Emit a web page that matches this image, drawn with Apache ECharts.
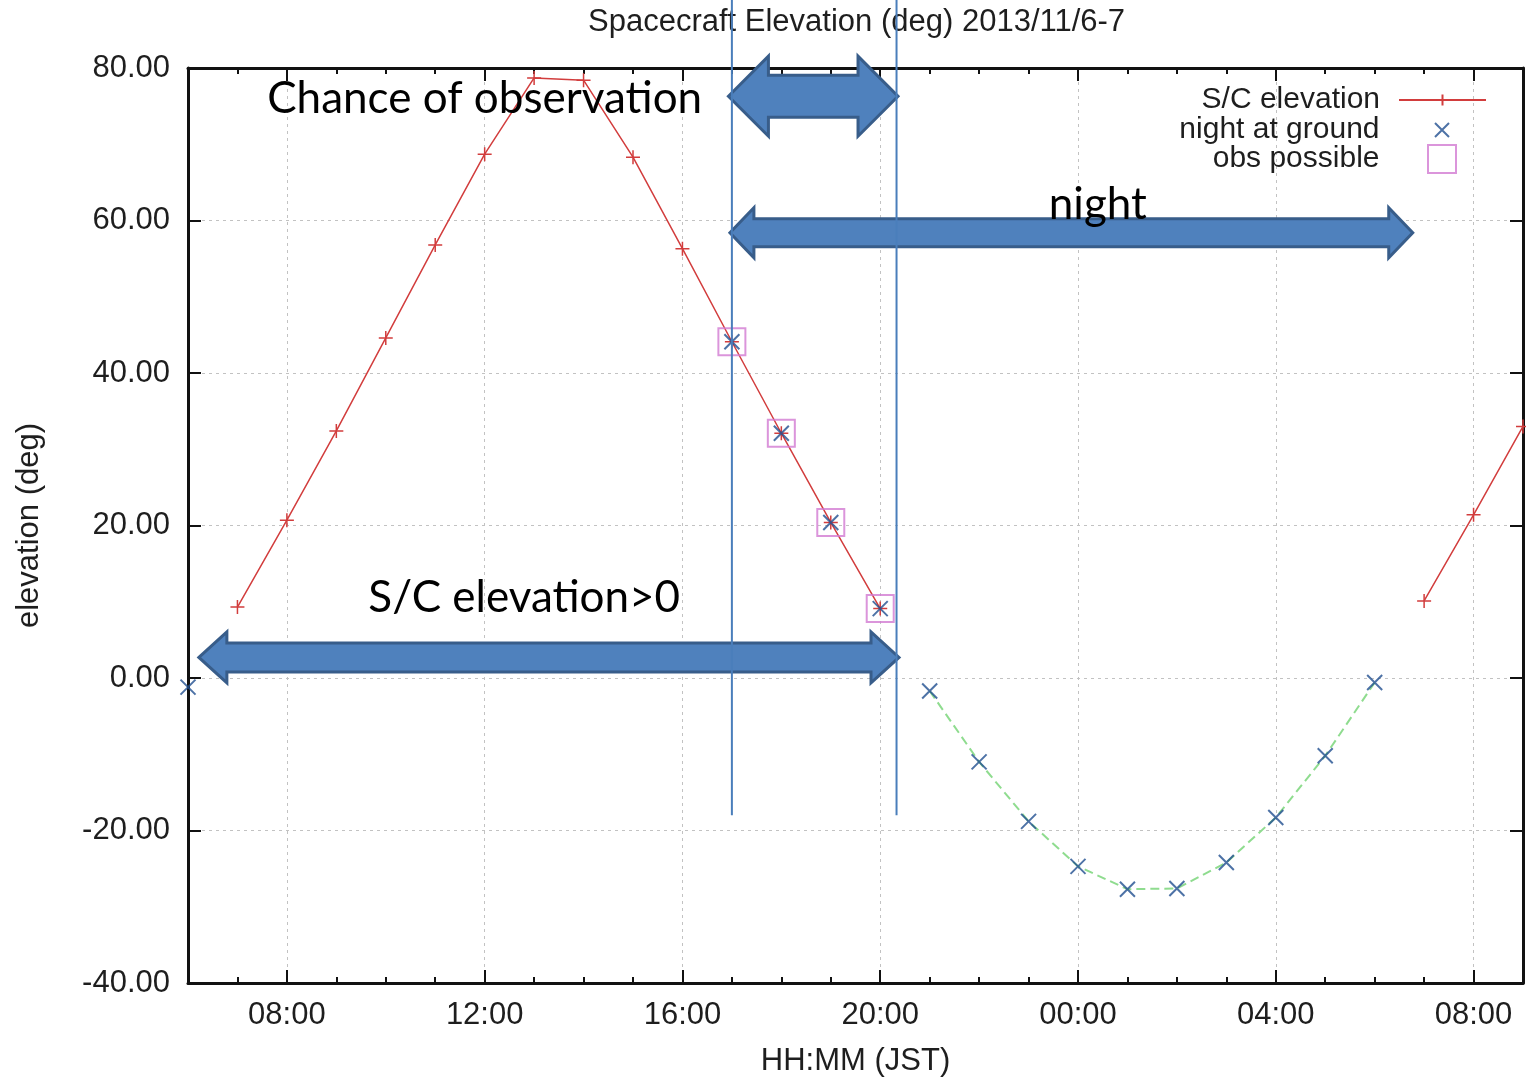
<!DOCTYPE html>
<html>
<head>
<meta charset="utf-8">
<script src="https://cdn.jsdelivr.net/npm/echarts@6/dist/echarts.min.js"></script>
<style>
  html, body { margin: 0; padding: 0; background: #fff; }
  #chart { width: 1526px; height: 1077px; }
</style>
</head>
<body>
<div id="chart"></div>
<script>
// hourly samples, 2013/11/6 06:00 .. 2013/11/7 09:00 (JST)
const timeLabels = ['06:00','07:00','08:00','09:00','10:00','11:00','12:00','13:00','14:00','15:00',
  '16:00','17:00','18:00','19:00','20:00','21:00','22:00','23:00','00:00','01:00','02:00','03:00',
  '04:00','05:00','06:00','07:00','08:00','09:00']
const scElevation = [null, 9.3, 20.7, 32.4, 44.6, 56.8, 68.7, 78.7, 78.4, 68.3, 56.3, 44.1, 32.1, 20.4, 9.1,
  null, null, null, null, null, null, null, null, null, null, 10.1, 21.4, 33.0]
const nightAtGround = [-1.2, null, null, null, null, null, null, null, null, null, null, 44.1, 32.1, 20.4, 9.1,
  -1.7, -11.0, -18.8, -24.7, -27.7, -27.6, -24.2, -18.3, -10.2, -0.6, null, null, null]
const obsPossible = [null, null, null, null, null, null, null, null, null, null, null, 44.1, 32.1, 20.4, 9.1,
  null, null, null, null, null, null, null, null, null, null, null, null, null]
const nightCurve = nightAtGround.map(v => (v != null && v < 0) ? v : null)

// overlay notes, in hours from 11/6 00:00 and degrees
const arrowSpans = [[16.93, 20.36, 76.3], [16.96, 30.77, 58.4], [6.22, 20.38, 2.7]]
const guideLines = [[17.0, 89, -18], [20.33, 89, -18]]
const noteTexts = ['Chance of observation', 'night', 'S/C elevation>0']
const notePos = [[12.0, 75.9], [24.4, 62.0], [12.8, 10.5]]
const arrowShapes = [{ head: 40, headH: 80, body: 42 }, { head: 24, headH: 50, body: 28 }, { head: 28, headH: 51, body: 29 }]

const gpFont = 'Liberation Sans, Arial, Helvetica, sans-serif'
const noteFont = 'Lato, Open Sans, sans-serif'
const PLUS = 'path://M0,5L10,5M5,0L5,10'
const CROSS = 'path://M0,0L10,10M10,0L0,10'
const SQUARE = 'path://M0,0L10,0L10,10L0,10Z'
const isMajor = (i) => i % 4 === 2
const txt = '#1e1e1e'
const fs = 31
const gridLine = { color: '#c2c2c2', width: 1, type: [3, 4] }
const frame = { color: '#111', width: 3 }
const tickStyle = { color: '#111', width: 2 }

const chart = echarts.init(document.getElementById('chart'))

const legendBase = {
  orient: 'vertical', align: 'right', padding: 0, itemWidth: 87,
  selectedMode: false,
  textStyle: { fontSize: 30, fontFamily: gpFont, color: txt, padding: [0, 14, 0, 0] }
}

const option = {
  animation: false,
  backgroundColor: '#fff',
  title: {
    text: 'Spacecraft Elevation (deg) 2013/11/6-7',
    left: 588, top: 7, padding: 0,
    textStyle: { fontSize: fs, fontWeight: 'normal', fontFamily: gpFont, color: txt }
  },
  legend: [
    { ...legendBase, data: ['S/C elevation'], right: 39, top: 85, itemHeight: 14 },
    { ...legendBase, data: [{ name: 'night at ground', icon: CROSS }], right: 76, top: 115, itemHeight: 14,
      itemStyle: { borderWidth: 2 } },
    { ...legendBase, data: [{ name: 'obs possible', icon: SQUARE }], right: 69, top: 144, itemHeight: 28,
      itemStyle: { borderWidth: 2 } }
  ],
  grid: { left: 188, right: 3, top: 68, bottom: 94, outerBoundsMode: 'none', containLabel: false },
  xAxis: [
    { // hourly ticks, bottom frame
      type: 'value', min: 6, max: 33, interval: 1, position: 'bottom',
      axisLine: { onZero: false, lineStyle: frame },
      axisTick: { inside: true, length: 6, lineStyle: tickStyle },
      axisLabel: { show: false }, splitLine: { show: false }
    },
    { // hourly ticks, top frame
      type: 'value', min: 6, max: 33, interval: 1, position: 'top',
      axisLine: { onZero: false, lineStyle: frame },
      axisTick: { inside: true, length: 6, lineStyle: tickStyle },
      axisLabel: { show: false }, splitLine: { show: false }
    },
    { // labelled 4h ticks
      type: 'category', data: timeLabels, boundaryGap: false, position: 'bottom',
      axisLine: { show: false, onZero: false },
      axisTick: { inside: true, length: 13, interval: isMajor, lineStyle: tickStyle },
      axisLabel: { interval: isMajor, fontSize: fs, fontFamily: gpFont, color: txt, margin: 17 },
      splitLine: { show: true, interval: isMajor, lineStyle: gridLine },
      name: 'HH:MM (JST)', nameLocation: 'middle', nameGap: 63,
      nameTextStyle: { fontSize: fs, fontFamily: gpFont, color: txt }
    },
    {
      type: 'category', data: timeLabels, boundaryGap: false, position: 'top',
      axisLine: { show: false, onZero: false },
      axisTick: { inside: true, length: 13, interval: isMajor, lineStyle: tickStyle },
      axisLabel: { show: false }, splitLine: { show: false }
    }
  ],
  yAxis: [
    {
      type: 'value', min: -40, max: 80, interval: 20, position: 'left',
      axisLine: { show: true, onZero: false, lineStyle: frame },
      axisTick: { inside: true, length: 13, lineStyle: tickStyle },
      axisLabel: { fontSize: fs, fontFamily: gpFont, color: txt, margin: 18, formatter: v => v.toFixed(2) },
      splitLine: { show: true, lineStyle: gridLine },
      name: 'elevation (deg)', nameLocation: 'middle', nameGap: 143,
      nameTextStyle: { fontSize: fs, fontFamily: gpFont, color: txt }
    },
    {
      type: 'value', min: -40, max: 80, interval: 20, position: 'right',
      axisLine: { show: true, onZero: false, lineStyle: frame },
      axisTick: { inside: true, length: 13, lineStyle: tickStyle },
      axisLabel: { show: false }, splitLine: { show: false }
    }
  ],
  series: [
    {
      name: 'S/C elevation', type: 'line', xAxisIndex: 2, yAxisIndex: 0,
      data: scElevation, connectNulls: false, showAllSymbol: true,
      symbol: PLUS, symbolSize: 14,
      lineStyle: { color: '#d23d3d', width: 1.5 },
      itemStyle: { color: '#d23d3d', borderColor: '#d23d3d', borderWidth: 1.5 },
      z: 3
    },
    {
      name: 'obs possible', type: 'scatter', xAxisIndex: 2, yAxisIndex: 0,
      data: obsPossible, symbol: SQUARE, symbolSize: 27, symbolKeepAspect: true,
      itemStyle: { color: 'rgba(0,0,0,0)', borderColor: '#d27ad2', borderWidth: 2 },
      z: 4
    },
    {
      name: 'night curve', type: 'line', xAxisIndex: 2, yAxisIndex: 0,
      data: nightCurve, connectNulls: false, symbol: 'none',
      lineStyle: { color: '#8fdc8f', width: 2, type: [9, 5] },
      z: 3
    },
    {
      name: 'night at ground', type: 'scatter', xAxisIndex: 2, yAxisIndex: 0,
      data: nightAtGround, symbol: CROSS, symbolSize: 15, symbolKeepAspect: true,
      itemStyle: { color: '#204f90', borderColor: '#204f90', borderWidth: 2 },
      z: 5
    },
    {
      name: 'arrows', type: 'custom', xAxisIndex: 0, yAxisIndex: 0, silent: true, z: 10,
      data: arrowSpans, encode: { x: [0, 1], y: 2 },
      renderItem(params, api) {
        const a = api.coord([api.value(0), api.value(2)])
        const b = api.coord([api.value(1), api.value(2)])
        const s = arrowShapes[params.dataIndex]
        const y = a[1], hh = s.headH / 2, bh = s.body / 2
        const l = a[0], r = b[0]
        return {
          type: 'polygon',
          shape: { points: [[l, y], [l + s.head, y - hh], [l + s.head, y - bh], [r - s.head, y - bh], [r - s.head, y - hh],
            [r, y], [r - s.head, y + hh], [r - s.head, y + bh], [l + s.head, y + bh], [l + s.head, y + hh]] },
          style: { fill: '#4f81bd', stroke: '#385d8a', lineWidth: 3 }
        }
      }
    },
    {
      name: 'guides', type: 'custom', xAxisIndex: 0, yAxisIndex: 0, silent: true, z: 11,
      data: guideLines, encode: { x: 0, y: [1, 2] },
      renderItem(params, api) {
        const p1 = api.coord([api.value(0), api.value(1)])
        const p2 = api.coord([api.value(0), api.value(2)])
        return {
          type: 'line',
          shape: { x1: p1[0], y1: p1[1], x2: p2[0], y2: p2[1] },
          style: { stroke: '#4a7ebb', lineWidth: 2 }
        }
      }
    },
    {
      name: 'notes', type: 'custom', xAxisIndex: 0, yAxisIndex: 0, silent: true, z: 12,
      data: notePos, encode: { x: 0, y: 1 },
      renderItem(params, api) {
        const p = api.coord([api.value(0), api.value(1)])
        return {
          type: 'text', x: p[0], y: p[1],
          style: { text: noteTexts[params.dataIndex], fontSize: 44, fontFamily: noteFont, fill: '#000',
            align: 'center', verticalAlign: 'middle' }
        }
      }
    }
  ]
}

chart.setOption(option)
</script>
</body>
</html>
